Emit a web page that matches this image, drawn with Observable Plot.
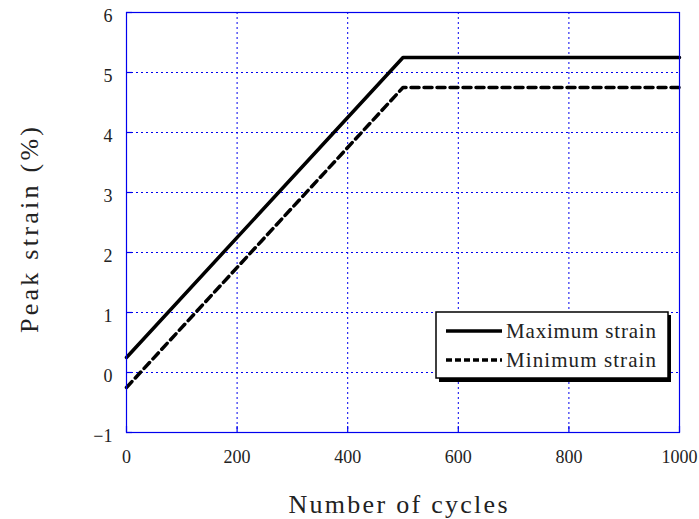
<!DOCTYPE html>
<html>
<head>
<meta charset="utf-8">
<script src="https://cdn.jsdelivr.net/npm/d3@7"></script>
<script src="https://cdn.jsdelivr.net/npm/@observablehq/plot@0.6"></script>
<style>
  html, body { margin: 0; padding: 0; background: #fff; }
  #chart { position: relative; width: 699px; height: 519px; }
</style>
</head>
<body>
<div id="chart"></div>
<script>
// Data
const cycles = [0, 500, 1000];
const maxStrain = [0.25, 5.25, 5.25];
const minStrain = [-0.25, 4.75, 4.75];
const xTicks = [0, 200, 400, 600, 800, 1000];
const yTicks = [-1, 0, 1, 2, 3, 4, 5, 6];
const seriesNames = ["Maximum strain", "Minimum strain"];
const xTitle = "Number of cycles";
const yTitle = "Peak strain (%)";

const maxData = cycles.map((c, i) => ({x: c, y: maxStrain[i]}));
const minData = cycles.map((c, i) => ({x: c, y: minStrain[i]}));

const gridColor = "#0000ee";
const serifFont = "Liberation Serif, Times New Roman, serif";
const fmt = d3.format("d");
const W = 699, H = 519, ML = 126, MR = 20, MT = 12, MB = 87;
const tickLen = 6;

const chart = Plot.plot({
  width: W,
  height: H,
  marginLeft: ML,
  marginRight: MR,
  marginTop: MT,
  marginBottom: MB,
  style: {fontFamily: serifFont, fontSize: "18px", color: "#222", background: "#fff"},
  x: {domain: [0, 1000]},
  y: {domain: [-1, 6]},
  marks: [
    Plot.gridX(xTicks, {stroke: gridColor, strokeOpacity: 1, strokeWidth: 1, strokeDasharray: "2,3"}),
    Plot.gridY(yTicks, {stroke: gridColor, strokeOpacity: 1, strokeWidth: 1, strokeDasharray: "2,3"}),
    // short inward ticks on the bottom and left axes
    Plot.tickX(xTicks, {x: d => d, stroke: gridColor, strokeWidth: 1.2, insetTop: (H - MT - MB) - tickLen}),
    Plot.tickY(yTicks, {y: d => d, stroke: gridColor, strokeWidth: 1.2, insetRight: (W - ML - MR) - tickLen}),
    Plot.axisX(xTicks, {tickSize: 0, tickPadding: 18, label: null, fill: "#222", tickFormat: fmt}),
    Plot.axisY(yTicks, {tickSize: 0, tickPadding: 14, label: null, dy: 4, fill: "#222", tickFormat: fmt}),
    Plot.line(maxData, {x: "x", y: "y", stroke: "black", strokeWidth: 3.5}),
    Plot.line(minData, {x: "x", y: "y", stroke: "black", strokeWidth: 3.5, strokeDasharray: "8,5"}),
    Plot.frame({stroke: gridColor, strokeWidth: 1.2})
  ]
});
document.getElementById("chart").appendChild(chart);

const svg = d3.select(chart);

// Axis titles
svg.append("text")
  .attr("x", 398).attr("y", 504).attr("dy", "0.35em")
  .attr("text-anchor", "middle")
  .attr("font-family", serifFont).attr("font-size", 26).attr("fill", "#222")
  .attr("textLength", 219).attr("lengthAdjust", "spacing")
  .text(xTitle);
svg.append("text")
  .attr("transform", "translate(29,230) rotate(-90)")
  .attr("dy", "0.35em")
  .attr("text-anchor", "middle")
  .attr("font-family", serifFont).attr("font-size", 26).attr("fill", "#222")
  .attr("textLength", 206).attr("lengthAdjust", "spacing")
  .text(yTitle);

// Legend
const lg = svg.append("g").attr("text-anchor", "start");
lg.append("rect").attr("x", 439).attr("y", 315).attr("width", 232).attr("height", 67).attr("fill", "black");
lg.append("rect").attr("x", 436).attr("y", 312).attr("width", 232).attr("height", 66)
  .attr("fill", "white").attr("stroke", "black").attr("stroke-width", 1.5);
const rows = [{y: 331, dash: null}, {y: 360, dash: "6,3"}];
rows.forEach((r, i) => {
  const l = lg.append("line").attr("x1", 446).attr("x2", 502).attr("y1", r.y).attr("y2", r.y)
    .attr("stroke", "black").attr("stroke-width", 3.5);
  if (r.dash) l.attr("stroke-dasharray", r.dash);
  lg.append("text").attr("x", 506).attr("y", r.y).attr("dy", "0.35em")
    .attr("text-anchor", "start")
    .attr("font-family", serifFont).attr("font-size", 21).attr("fill", "#222")
    .attr("textLength", 150).attr("lengthAdjust", "spacing")
    .text(seriesNames[i]);
});
</script>
</body>
</html>
